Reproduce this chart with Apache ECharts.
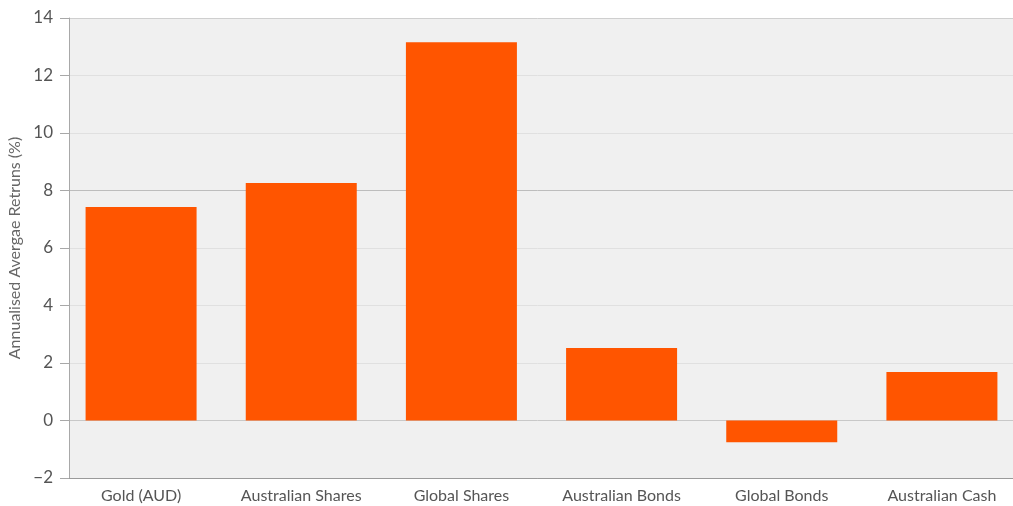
<!DOCTYPE html>
<html>
<head>
<meta charset="utf-8">
<script src="https://cdn.jsdelivr.net/npm/echarts@6/dist/echarts.min.js"></script>
<style>html,body{margin:0;padding:0;background:#fff;}#c{width:1013px;height:506px;}</style>
</head>
<body>
<div id="c"></div>
<script>
const categories = ['Gold (AUD)', 'Australian Shares', 'Global Shares', 'Australian Bonds', 'Global Bonds', 'Australian Cash'];
const returns = [7.43, 8.26, 13.16, 2.52, -0.76, 1.69];
const yTicks = { min: -2, max: 14, interval: 2 };
const yAxisTitle = 'Annualised Avergae Retruns (%)';

const chart = echarts.init(document.getElementById('c'), null, { renderer: 'canvas' });
const font = 'Lato, "Open Sans", sans-serif';
chart.setOption({
  animation: false,
  backgroundColor: '#ffffff',
  graphic: [{
    type: 'rect', z: -10, silent: true,
    shape: { x: 69, y: 18, width: 944, height: 460 },
    style: { fill: '#f0f0f0' }
  }],
  grid: { left: 61, width: 961, top: 18, height: 460, containLabel: false, outerBoundsMode: 'none' },
  xAxis: {
    type: 'category',
    data: categories,
    axisLine: { onZero: false, lineStyle: { color: '#9a9a9a', width: 1 } },
    axisTick: { show: false },
    axisLabel: { color: '#555', fontSize: 16, fontFamily: font, margin: 10 },
    splitLine: { show: false }
  },
  yAxis: {
    type: 'value',
    min: yTicks.min, max: yTicks.max, interval: yTicks.interval,
    offset: -8,
    name: yAxisTitle,
    nameLocation: 'middle',
    nameGap: 39,
    nameTextStyle: { color: '#666', fontSize: 16, fontFamily: font },
    axisLine: { show: true, lineStyle: { color: '#a8a8a8', width: 1 } },
    axisTick: { show: true, length: 9, lineStyle: { color: '#a8a8a8' } },
    axisLabel: { color: '#555', fontSize: 17, fontFamily: font, margin: 16,
      formatter: v => String(v).replace('-', '\u2212') },
    splitLine: { show: true, lineStyle: { color: ['#9a9a9a', '#c8c8c8', '#e0e0e0', '#e0e0e0', '#e0e0e0', '#bdbdbd', '#e0e0e0', '#e0e0e0', '#cfcfcf'], width: 1 } }
  },
  series: [{
    type: 'bar',
    data: returns,
    barWidth: 111,
    itemStyle: { color: '#ff5500' }
  }]
});
</script>
</body>
</html>
